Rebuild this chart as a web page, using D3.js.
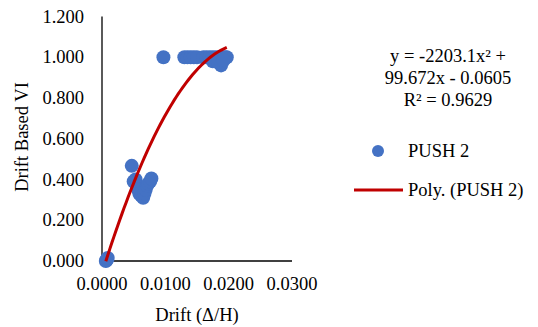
<!DOCTYPE html>
<html>
<head>
<meta charset="utf-8">
<script src="https://cdn.jsdelivr.net/npm/d3@7"></script>
<style>
  body { margin: 0; background: #fff; }
  svg text { font-family: "Liberation Serif", "Times New Roman", serif; fill: #000; }
</style>
</head>
<body>
<svg width="538" height="327"></svg>
<script>
// PUSH 2 points (drift, drift based VI)
var driftX = [0.0006, 0.0007, 0.0008, 0.0009,
    0.0047, 0.0050, 0.0053, 0.0055, 0.0057, 0.0059, 0.0062, 0.0065, 0.0067, 0.0069, 0.0071, 0.0073, 0.0076, 0.0078,
    0.0097, 0.0130, 0.0135, 0.0140, 0.0145, 0.0150, 0.0160, 0.0165, 0.0170, 0.0175, 0.0180, 0.0185, 0.0190, 0.0195, 0.0197,
    0.0175, 0.0183, 0.0188, 0.0192]
var viY = [0.000, 0.004, 0.008, 0.015,
    0.467, 0.390, 0.400, 0.370, 0.350, 0.330, 0.320, 0.310, 0.330, 0.350, 0.370, 0.380, 0.390, 0.405,
    1.000, 1.000, 1.000, 1.000, 1.000, 1.000, 1.000, 1.000, 1.000, 1.000, 1.000, 1.000, 1.000, 1.000, 1.000,
    0.980, 0.975, 0.960, 0.985]

// trendline coefficients (a x^2 + b x + c)
var polyCoef = [-2203.1, 99.672, -0.0605]
var eqLines = ['y = -2203.1x\u00b2 +', '99.672x - 0.0605', 'R\u00b2 = 0.9629']

var yTicks = [0, 0.2, 0.4, 0.6, 0.8, 1.0, 1.2]
var xTicks = [0, 0.01, 0.02, 0.03]

var svg = d3.select('svg')

var x = d3.scaleLinear().domain([0, 0.03]).range([102, 292])
var y = d3.scaleLinear().domain([0, 1.2]).range([261, 16.5])

// axes lines
svg.append('line')
    .attr('x1', x(0)).attr('y1', y(1.2))
    .attr('x2', x(0)).attr('y2', y(0))
    .attr('stroke', '#000').attr('stroke-width', 1.3)
svg.append('line')
    .attr('x1', x(0)).attr('y1', y(0))
    .attr('x2', x(0.03)).attr('y2', y(0))
    .attr('stroke', '#000').attr('stroke-width', 1.3)

// tick labels
svg.selectAll('.ytick')
    .data(yTicks)
    .enter()
    .append('text')
    .attr('class', 'ytick')
    .attr('x', 84)
    .attr('y', d => y(d) + 6)
    .attr('text-anchor', 'end')
    .style('font-size', '18.5px')
    .text(d => d3.format('.3f')(d))

svg.selectAll('.xtick')
    .data(xTicks)
    .enter()
    .append('text')
    .attr('class', 'xtick')
    .attr('x', d => x(d))
    .attr('y', 290)
    .attr('text-anchor', 'middle')
    .style('font-size', '18.5px')
    .text(d => d3.format('.4f')(d))

// axis titles
svg.append('text')
    .attr('transform', 'translate(28,137) rotate(-90)')
    .attr('text-anchor', 'middle')
    .style('font-size', '18.5px')
    .text('Drift Based VI')

svg.append('text')
    .attr('x', 197)
    .attr('y', 321)
    .attr('text-anchor', 'middle')
    .style('font-size', '18.5px')
    .text('Drift (\u0394/H)')

// points
var pts = driftX.map((d, i) => [d, viY[i]])
svg.selectAll('.pt')
    .data(pts)
    .enter()
    .append('circle')
    .attr('class', 'pt')
    .attr('cx', d => x(d[0]))
    .attr('cy', d => y(d[1]))
    .attr('r', 7)
    .attr('fill', '#4472C4')

// polynomial trendline over data range
var xmin = d3.min(driftX), xmax = d3.max(driftX)
var trend = d3.range(0, 61).map(function (i) {
    var t = xmin + (xmax - xmin) * i / 60
    return [t, polyCoef[0] * t * t + polyCoef[1] * t + polyCoef[2]]
})
svg.append('path')
    .datum(trend)
    .attr('d', d3.line().x(d => x(d[0])).y(d => y(d[1])))
    .attr('fill', 'none')
    .attr('stroke', '#C00000')
    .attr('stroke-width', 3)

// equation
svg.selectAll('.eq')
    .data(eqLines)
    .enter()
    .append('text')
    .attr('class', 'eq')
    .attr('x', 448)
    .attr('y', (d, i) => 62 + i * 22)
    .attr('text-anchor', 'middle')
    .style('font-size', '18.5px')
    .text(d => d)

// legend
svg.append('circle')
    .attr('cx', 378).attr('cy', 151).attr('r', 6)
    .attr('fill', '#4472C4')
svg.append('text')
    .attr('x', 408).attr('y', 157)
    .style('font-size', '18.5px')
    .text('PUSH 2')

svg.append('line')
    .attr('x1', 354).attr('y1', 190)
    .attr('x2', 403).attr('y2', 190)
    .attr('stroke', '#C00000')
    .attr('stroke-width', 3)
svg.append('text')
    .attr('x', 408).attr('y', 196)
    .style('font-size', '18.5px')
    .text('Poly. (PUSH 2)')
</script>
</body>
</html>
